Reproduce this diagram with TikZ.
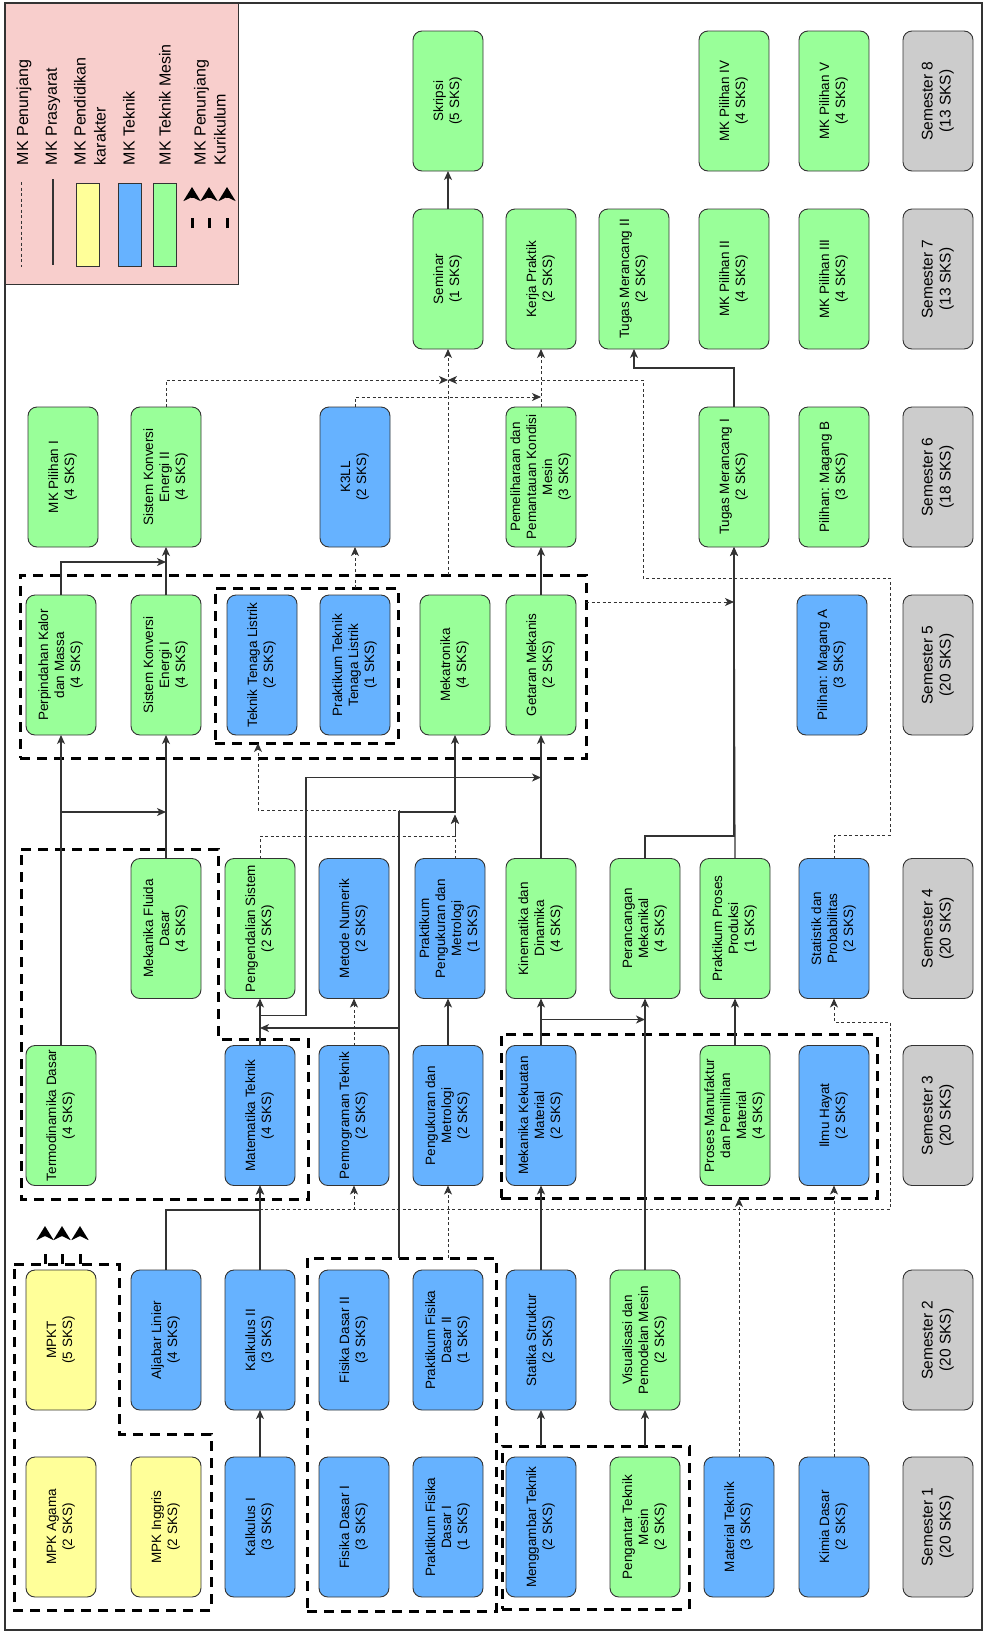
\documentclass[tikz,border=0pt]{standalone}
\usepackage{fontspec}
\setmainfont{Liberation Sans}
\usepackage{graphicx}
\usetikzlibrary{arrows.meta,calc}
\definecolor{cgreen}{HTML}{99FF99}
\definecolor{cblue}{HTML}{66B2FF}
\definecolor{cyellow}{HTML}{FFFF99}
\definecolor{cgray}{HTML}{CCCCCC}
\definecolor{cpink}{HTML}{F8CECC}
\definecolor{cline}{HTML}{333333}
\newcommand{\rtx}[1]{\rotatebox{90}{\begin{tabular}{@{}c@{}}#1\end{tabular}}}
\begin{document}
\begin{tikzpicture}[x=1pt,y=-1pt,
  mk/.style={draw=cline, line width=0.9pt, rounded corners=9pt, minimum width=70pt, minimum height=140pt, inner sep=0pt, outer sep=0pt, font=\fontsize{13.5}{16}\selectfont},
  gmk/.style={mk, fill=cgreen},
  bmk/.style={mk, fill=cblue},
  ymk/.style={mk, fill=cyellow},
  smk/.style={mk, fill=cgray, font=\fontsize{15.5}{18}\selectfont},
  grp/.style={draw=black, line width=3pt, dash pattern=on 10pt off 7pt, inner sep=0pt, outer sep=0pt},
  pre/.style={draw=cline, line width=1.2pt, -{Stealth[length=9pt,width=8pt,inset=2.5pt]}},
  pen/.style={draw=cline, line width=0.9pt, dash pattern=on 3pt off 2.5pt, -{Stealth[length=9pt,width=8pt,inset=2.5pt]}},
  kur/.style={draw=black, line width=3pt, dash pattern=on 10pt off 20pt, -{Stealth[length=14pt,width=17pt,inset=4pt]}},
  leg/.style={font=\fontsize{16}{20}\selectfont, inner sep=0pt, outer sep=0pt, rotate=90, anchor=west, align=left},
]
\useasboundingbox (0,0) rectangle (987,1633);
\draw[line width=1.5pt, cline] (5,3) rectangle (982,1630);

% ---------- legend ----------
\node[draw=cline, fill=cpink, line width=1pt, minimum width=233pt, minimum height=281pt, inner sep=0pt, outer sep=0pt] (legend) at (121.5,143.5) {};
\draw[cline, line width=0.9pt, dash pattern=on 3pt off 2.5pt] (21,182) -- (21,267);
\draw[cline, line width=1.2pt] (53,179) -- (53,265);
\draw[cline, fill=cyellow, line width=0.9pt] (76,183) rectangle (99,266);
\draw[cline, fill=cblue, line width=0.9pt] (118,183) rectangle (141,266);
\draw[cline, fill=cgreen, line width=0.9pt] (153,183) rectangle (176,266);
\foreach \x in {192,209,227} \draw[kur] (\x,228) -- (\x,187);
\node[leg] (l1) at (24,165) {MK Penunjang};
\node[leg] (l2) at (53,165) {MK Prasyarat};
\node[leg] (l3) at (90,165) {MK Pendidikan\\karakter};
\node[leg] (l4) at (129,165) {MK Teknik};
\node[leg] (l5) at (165,165) {MK Teknik Mesin};
\node[leg] (l6) at (210,165) {MK Penunjang\\Kurikulum};

% ---------- groups ----------
\node[grp, minimum width=566pt, minimum height=183pt] (g5) at (303,666.5) {};
\node[grp, minimum width=183pt, minimum height=155pt] (ttlg) at (306.5,665.5) {};
\node[grp, minimum width=376pt, minimum height=164pt] (g3r) at (689,1116) {};
\node[grp, minimum width=189pt, minimum height=353pt] (fisg) at (401.5,1434.5) {};
\node[grp, minimum width=187pt, minimum height=163pt] (mgg) at (595.5,1527.5) {};
\draw[grp] (21,849) -- (218,849) -- (218,1039) -- (308,1039) -- (308,1199) -- (21,1199) -- cycle;
\draw[grp] (14,1264) -- (119,1264) -- (119,1434) -- (211,1434) -- (211,1610) -- (14,1610) -- cycle;
\coordinate (mpkc) at (62,1264);

% ---------- semester 8 ----------
\node[gmk] (skripsi) at (448,101) {\rtx{Skripsi\\(5 SKS)}};
\node[gmk] (pil4) at (734,101) {\rtx{MK Pilihan IV\\(4 SKS)}};
\node[gmk] (pil5) at (834,101) {\rtx{MK Pilihan V\\(4 SKS)}};
\node[smk] (sem8) at (938,101) {\rtx{Semester 8\\(13 SKS)}};
% ---------- semester 7 ----------
\node[gmk] (seminar) at (448,279) {\rtx{Seminar\\(1 SKS)}};
\node[gmk] (kp) at (541,279) {\rtx{Kerja Praktik\\(2 SKS)}};
\node[gmk] (tm2) at (634,279) {\rtx{Tugas Merancang II\\(2 SKS)}};
\node[gmk] (pil2) at (734,279) {\rtx{MK Pilihan II\\(4 SKS)}};
\node[gmk] (pil3) at (834,279) {\rtx{MK Pilihan III\\(4 SKS)}};
\node[smk] (sem7) at (938,279) {\rtx{Semester 7\\(13 SKS)}};
% ---------- semester 6 ----------
\node[gmk] (pil1) at (63,477) {\rtx{MK Pilihan I\\(4 SKS)}};
\node[gmk] (ske2) at (166,477) {\rtx{Sistem Konversi\\Energi II\\(4 SKS)}};
\node[bmk] (k3ll) at (355,477) {\rtx{K3LL\\(2 SKS)}};
\node[gmk] (pem) at (541,477) {\rtx{Pemeliharaan dan\\Pemantauan Kondisi\\Mesin\\(3 SKS)}};
\node[gmk] (tm1) at (734,477) {\rtx{Tugas Merancang I\\(2 SKS)}};
\node[gmk] (magB) at (834,477) {\rtx{Pilihan: Magang B\\(3 SKS)}};
\node[smk] (sem6) at (938,477) {\rtx{Semester 6\\(18 SKS)}};
% ---------- semester 5 ----------
\node[gmk] (pkm) at (61,665) {\rtx{Perpindahan Kalor\\dan Massa\\(4 SKS)}};
\node[gmk] (ske1) at (166,665) {\rtx{Sistem Konversi\\Energi I\\(4 SKS)}};
\node[bmk] (ttl) at (262,665) {\rtx{Teknik Tenaga Listrik\\(2 SKS)}};
\node[bmk] (pttl) at (355,665) {\rtx{Praktikum Teknik\\Tenaga Listrik\\(1 SKS)}};
\node[gmk] (mek) at (455,665) {\rtx{Mekatronika\\(4 SKS)}};
\node[gmk] (gm) at (541,665) {\rtx{Getaran Mekanis\\(2 SKS)}};
\node[bmk] (magA) at (832,665) {\rtx{Pilihan: Magang A\\(3 SKS)}};
\node[smk] (sem5) at (938,665) {\rtx{Semester 5\\(20 SKS)}};
% ---------- semester 4 ----------
\node[gmk] (mfd) at (166,928.5) {\rtx{Mekanika Fluida\\Dasar\\(4 SKS)}};
\node[gmk] (ps) at (260,928.5) {\rtx{Pengendalian Sistem\\(2 SKS)}};
\node[bmk] (mn) at (354,928.5) {\rtx{Metode Numerik\\(2 SKS)}};
\node[bmk] (ppm) at (450,928.5) {\rtx{Praktikum\\Pengukuran dan\\Metrologi\\(1 SKS)}};
\node[gmk] (kd) at (541,928.5) {\rtx{Kinematika dan\\Dinamika\\(4 SKS)}};
\node[gmk] (pmk) at (645,928.5) {\rtx{Perancangan\\Mekanikal\\(4 SKS)}};
\node[gmk] (ppp) at (735,928.5) {\rtx{Praktikum Proses\\Produksi\\(1 SKS)}};
\node[bmk] (sp) at (834,928.5) {\rtx{Statistik dan\\Probabilitas\\(2 SKS)}};
\node[smk] (sem4) at (938,928.5) {\rtx{Semester 4\\(20 SKS)}};
% ---------- semester 3 ----------
\node[gmk] (td) at (61,1115.5) {\rtx{Termodinamika Dasar\\(4 SKS)}};
\node[bmk] (mt) at (260,1115.5) {\rtx{Matematika Teknik\\(4 SKS)}};
\node[bmk] (pt) at (354,1115.5) {\rtx{Pemrograman Teknik\\(2 SKS)}};
\node[bmk] (pm) at (448,1115.5) {\rtx{Pengukuran dan\\Metrologi\\(2 SKS)}};
\node[bmk] (mkm) at (541,1115.5) {\rtx{Mekanika Kekuatan\\Material\\(2 SKS)}};
\node[gmk] (pmpm) at (735,1115.5) {\rtx{Proses Manufaktur\\dan Pemilihan\\Material\\(4 SKS)}};
\node[bmk] (ih) at (834,1115.5) {\rtx{Ilmu Hayat\\(2 SKS)}};
\node[smk] (sem3) at (938,1115.5) {\rtx{Semester 3\\(20 SKS)}};
% ---------- semester 2 ----------
\node[ymk] (mpkt) at (61,1340) {\rtx{MPKT\\(5 SKS)}};
\node[bmk] (al) at (166,1340) {\rtx{Aljabar Linier\\(4 SKS)}};
\node[bmk] (k2) at (260,1340) {\rtx{Kalkulus II\\(3 SKS)}};
\node[bmk] (fd2) at (354,1340) {\rtx{Fisika Dasar II\\(3 SKS)}};
\node[bmk] (pfd2) at (448,1340) {\rtx{Praktikum Fisika\\Dasar II\\(1 SKS)}};
\node[bmk] (ss) at (541,1340) {\rtx{Statika Struktur\\(2 SKS)}};
\node[gmk] (vpm) at (645,1340) {\rtx{Visualisasi dan\\Pemodelan Mesin\\(2 SKS)}};
\node[smk] (sem2) at (938,1340) {\rtx{Semester 2\\(20 SKS)}};
% ---------- semester 1 ----------
\node[ymk] (agama) at (61,1527) {\rtx{MPK Agama\\(2 SKS)}};
\node[ymk] (inggris) at (166,1527) {\rtx{MPK Inggris\\(2 SKS)}};
\node[bmk] (k1) at (260,1527) {\rtx{Kalkulus I\\(3 SKS)}};
\node[bmk] (fd1) at (354,1527) {\rtx{Fisika Dasar I\\(3 SKS)}};
\node[bmk] (pfd1) at (448,1527) {\rtx{Praktikum Fisika\\Dasar I\\(1 SKS)}};
\node[bmk] (mgt) at (541,1527) {\rtx{Menggambar Teknik\\(2 SKS)}};
\node[gmk] (ptm) at (645,1527) {\rtx{Pengantar Teknik\\Mesin\\(2 SKS)}};
\node[bmk] (mat) at (739,1527) {\rtx{Material Teknik\\(3 SKS)}};
\node[bmk] (kimia) at (834,1527) {\rtx{Kimia Dasar\\(2 SKS)}};
\node[smk] (sem1) at (938,1527) {\rtx{Semester 1\\(20 SKS)}};

% ---------- prasyarat (solid) ----------
\draw[pre] (seminar.north) -- (skripsi.south);
\draw[pre] (tm1.north) -- ++(0,-39) -| (tm2.south);
\draw[pre] (ppp.north) -- (tm1.south);
\draw[pre] (pmk.north) -- ++(0,-22.5) -| (tm1.south);
\draw[pre] (pmpm.north) -- (ppp.south);
\draw[pre] (vpm.north) -- (pmk.south);
\draw[pre] (mkm.north) -- ++(0,-26) coordinate (j1) -- (j1 -| vpm.north);
\draw[pre] (mkm.north) -- (kd.south);
\draw[pre] (kd.north) -- (gm.south);
\draw[pre] (gm.north) -- (pem.south);
\draw[pre] (mt.north) -- ++(0,-30) -- ++(46,0) -- ++(0,-238) coordinate (j2) -- (j2 -| gm.south);
\draw[pre] (mt.north) -- (ps.south);
\draw[pre] ([xshift=-2.5pt]fisg.north) |- ([yshift=-77pt]mek.south) -- (mek.south);
\draw[pre] ([xshift=-2.5pt]fisg.north) -- ++(0,-230) coordinate (j3) -- (j3 -| ps.south);
\draw[pre] (k1.north) -- (k2.south);
\draw[pre] (k2.north) -- (mt.south);
\draw[pre] (al.north) -- ++(0,-60) -| (mt.south);
\draw[pre] (td.north) -- (pkm.south);
\draw[pre] (td.north) -- ++(0,-233.5) coordinate (j4) -- (j4 -| ske1.south);
\draw[pre] (mfd.north) -- (ske1.south);
\draw[pre] (pkm.north) -- ++(0,-33) coordinate (j5) -- (j5 -| ske2.south);
\draw[pre] (ske1.north) -- (ske2.south);
\draw[pre] (mgg.north -| ss.south) -- (ss.south);
\draw[pre] (mgg.north -| vpm.south) -- (vpm.south);
\draw[pre] (ss.north) -- (mkm.south);
\draw[pre] (pm.north) -- (pm.north |- ppm.south);

% ---------- penunjang (dotted) ----------
\draw[pen] ([xshift=-2.5pt]fisg.north) -- ++(0,-448) -| ([xshift=-48.5pt]ttlg.south);
\draw[pen] (fisg.north -| pm.south) -- (pm.south);
\draw[pen] (ppm.north -| mek.south) -- ++(0,-44);
\draw[pen] (ps.north) |- ($(mek.south)+(0,101)$) -- ($(mek.south)+(0,80)$);
\draw[pen] (k2.north) -- ++(0,-61) -| (pt.south);
\draw[pen] (k2.north) -- ++(0,-61) -- ++(630,0) -- ++(0,-187) -| (sp.south);
\draw[pen] (sp.north) -- ++(0,-23.5) -- ++(56,0) -- ++(0,-257) -- ++(-247,0) -- ++(0,-198) coordinate (j6) -- (j6 -| seminar.south);
\draw[pen] (ske2.north) -- ++(0,-27) coordinate (j7) -- (j7 -| seminar.south);
\draw[pen] (k3ll.north) -- ++(0,-10) coordinate (j8) -- (j8 -| kp.south);
\draw[pen] (pem.north) -- (kp.south);
\draw[pen] (g5.north -| seminar.south) -- (seminar.south);
\draw[pen] ([yshift=64.5pt]g5.east) coordinate (j9) -- (j9 -| tm1.south);
\draw[pen] (ttlg.north -| k3ll.south) -- (k3ll.south);
\draw[pen] (mat.north) -- (mat.north |- g3r.south);
\draw[pen] (kimia.north) -- (ih.south);
\draw[pen] (pt.north) -- (mn.south);

% ---------- penunjang kurikulum ----------
\foreach \dx in {-17,0,18} \draw[kur] ([xshift=\dx pt]mpkc) -- ++(0,-38);
\end{tikzpicture}
\end{document}
